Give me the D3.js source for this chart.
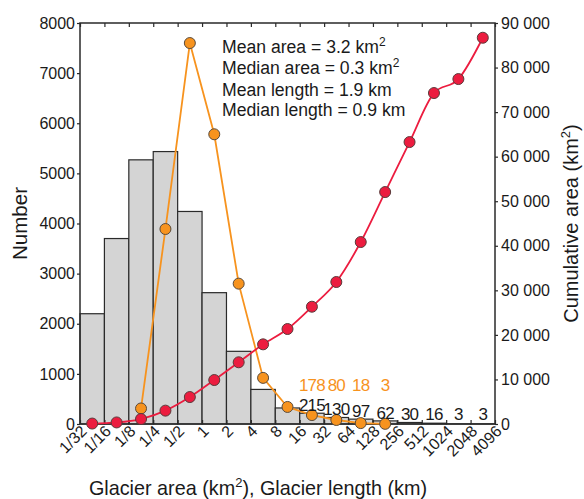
<!DOCTYPE html>
<html><head><meta charset="utf-8">
<script src="https://cdn.jsdelivr.net/npm/d3@7"></script>
<style>
body{margin:0;background:#fff;}
text{font-family:"Liberation Sans",Arial,sans-serif;fill:#1a1a1a;}
</style></head>
<body>
<svg id="c" width="584" height="499"></svg>
<script>
// Bin edges as log2 exponents: 1/32 ... 4096
const tickExps = d3.range(-5, 13);
const tickLabels = ["1/32","1/16","1/8","1/4","1/2","1","2","4","8","16","32","64","128","256","512","1024","2048","4096"];
// Number of glaciers per area bin (17 bins)
const areaCounts = [2200,3700,5270,5435,4240,2620,1450,690,320,215,130,97,62,30,16,3,3];
// Labels written above the small bars (bins 10..17)
const areaLabelBins = [9,10,11,12,13,14,15,16];
// Number of glaciers per length bin, starting at bin index 2 (1/8-1/4)
const lengthStart = 2;
const lengthCounts = [310,3890,7600,5780,2800,920,340,178,80,18,3];
const lengthLabelBins = [9,10,11,12];
// Cumulative area (km2) per bin
const cumArea = [100,350,1120,3000,6050,9870,13850,17880,21320,26320,31870,40840,52060,63280,74280,77420,86690];
const leftTicks = [0,1000,2000,3000,4000,5000,6000,7000,8000];
const rightTicks = [0,10000,20000,30000,40000,50000,60000,70000,80000,90000];

const svg = d3.select("#c");
const L = 80, R = 495, T = 23, B = 424;
const x = d3.scaleLinear().domain([-5, 12]).range([L, R]);
const y = d3.scaleLinear().domain([0, 8000]).range([B, T]);
const y2 = d3.scaleLinear().domain([0, 90000]).range([B, T]);
const cx = i => x(-5 + i + 0.5);

const orange = "#f7931e", red = "#ec1c3f";

// bars
svg.append("g").selectAll("rect").data(areaCounts).join("rect")
  .attr("x", (d,i) => x(-5+i)).attr("width", x(-4)-x(-5))
  .attr("y", d => y(d)).attr("height", d => B - y(d))
  .attr("fill", "#d4d4d4").attr("stroke", "#2a2a2a").attr("stroke-width", 1.2);

// frame
svg.append("rect").attr("x", L).attr("y", T).attr("width", R-L).attr("height", B-T)
  .attr("fill", "none").attr("stroke", "#2a2a2a").attr("stroke-width", 1.5);

// axes
const gl = svg.append("g").attr("transform", `translate(${L},0)`)
  .call(d3.axisLeft(y).tickValues(leftTicks).tickSize(3).tickPadding(2).tickFormat(d3.format("d")));
const gr = svg.append("g").attr("transform", `translate(${R},0)`)
  .call(d3.axisRight(y2).tickValues(rightTicks).tickSize(3).tickPadding(3).tickFormat(d => d === 0 ? "0" : d3.format(",")(d).replace(/,/g, " ")));
const gb = svg.append("g").attr("transform", `translate(0,${B})`)
  .call(d3.axisBottom(x).tickValues(tickExps).tickSize(-4).tickPadding(6).tickFormat((d,i) => tickLabels[i]));
const gt = svg.append("g").attr("transform", `translate(0,${T})`)
  .call(d3.axisTop(x).tickValues(tickExps).tickSize(-4).tickFormat(""));
[gl, gr, gb, gt].forEach(g => {
  g.select(".domain").remove();
  g.selectAll(".tick line").attr("stroke", "#2a2a2a").attr("stroke-width", 1.2);
  g.selectAll("text").attr("font-size", 16).attr("fill", "#1a1a1a").attr("font-family", "Liberation Sans, Arial, sans-serif");
});
gb.selectAll("text").attr("text-anchor", "end").attr("dx", "0").attr("dy", "0")
  .attr("transform", "translate(3,4) rotate(-45)");

// orange length line
const lenPts = lengthCounts.map((v,k) => [cx(lengthStart+k), y(v)]);
svg.append("path").attr("d", d3.line().curve(d3.curveLinear)(lenPts))
  .attr("fill", "none").attr("stroke", orange).attr("stroke-width", 1.8);
svg.append("g").selectAll("circle").data(lenPts).join("circle")
  .attr("cx", d => d[0]).attr("cy", d => d[1]).attr("r", 5.5)
  .attr("fill", orange).attr("stroke", "#5a4a3a").attr("stroke-width", 1);

// red cumulative line
const cumPts = cumArea.map((v,i) => [cx(i), y2(v)]);
svg.append("path").attr("d", d3.line().curve(d3.curveMonotoneX)(cumPts))
  .attr("fill", "none").attr("stroke", red).attr("stroke-width", 1.8);
svg.append("g").selectAll("circle").data(cumPts).join("circle")
  .attr("cx", d => d[0]).attr("cy", d => d[1]).attr("r", 5.5)
  .attr("fill", red).attr("stroke", "#5a3a3a").attr("stroke-width", 1);

// count labels
svg.append("g").selectAll("text").data(areaLabelBins).join("text")
  .attr("x", i => cx(i)).attr("y", i => Math.min(y(areaCounts[i]) - 2, 420))
  .attr("text-anchor", "middle").attr("font-size", 17).attr("letter-spacing", -0.8).text(i => areaCounts[i]);
svg.append("g").selectAll("text").data(lengthLabelBins).join("text")
  .attr("x", i => cx(i)).attr("y", 391)
  .attr("text-anchor", "middle").attr("font-size", 17).attr("letter-spacing", -0.8).style("fill", orange)
  .text(i => lengthCounts[i - lengthStart]);

// annotation
const ann = [["Mean area = 3.2 km", "2", 53], ["Median area = 0.3 km", "2", 74], ["Mean length = 1.9 km", "", 96], ["Median length = 0.9 km", "", 116]];
ann.forEach(a => {
  const t = svg.append("text").attr("x", 222).attr("y", a[2]).attr("font-size", 17.6);
  t.append("tspan").text(a[0]);
  if (a[1]) t.append("tspan").attr("dy", -7).attr("font-size", 12).text(a[1]);
});

// axis titles
const xt = svg.append("text").attr("x", 258).attr("y", 495).attr("text-anchor", "middle").attr("font-size", 19.8);
xt.append("tspan").text("Glacier area (km");
xt.append("tspan").attr("dy", -8).attr("font-size", 13).text("2");
xt.append("tspan").attr("dy", 8).text("), Glacier length (km)");

svg.append("text").attr("transform", `translate(27,${(T+B)/2}) rotate(-90)`)
  .attr("text-anchor", "middle").attr("font-size", 20.5).text("Number");

const rt = svg.append("text").attr("transform", `translate(578,${(T+B)/2}) rotate(-90)`)
  .attr("text-anchor", "middle").attr("font-size", 20);
rt.append("tspan").text("Cumulative area (km");
rt.append("tspan").attr("dy", -8).attr("font-size", 13).text("2");
rt.append("tspan").attr("dy", 8).text(")");
</script>
</body></html>
